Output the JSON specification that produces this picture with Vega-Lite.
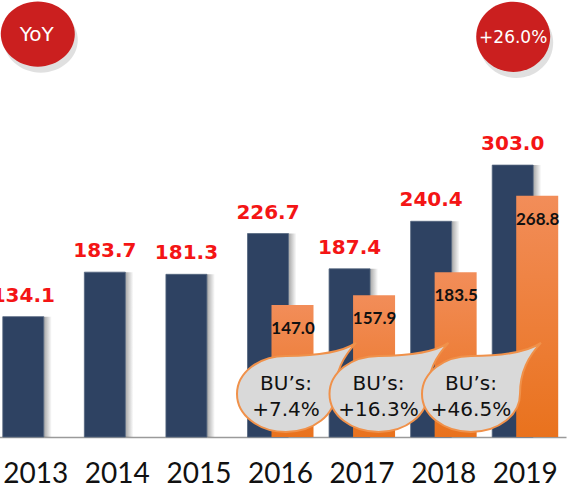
{
  "$schema": "https://vega.github.io/schema/vega-lite/v6.json",
  "width": 573,
  "height": 437,
  "autosize": {"type": "none"},
  "padding": {"left": 0, "top": 0, "right": 0, "bottom": 52},
  "background": "white",
  "config": {"view": {"stroke": null}},
  "datasets": {
    "totals": [
      {"year": "2013", "total": 134.1},
      {"year": "2014", "total": 183.7},
      {"year": "2015", "total": 181.3},
      {"year": "2016", "total": 226.7},
      {"year": "2017", "total": 187.4},
      {"year": "2018", "total": 240.4},
      {"year": "2019", "total": 303.0}
    ],
    "bu": [
      {"year": "2016", "bu": 147.0},
      {"year": "2017", "bu": 157.9},
      {"year": "2018", "bu": 183.5},
      {"year": "2019", "bu": 268.8}
    ],
    "bubbles": [
      {"year": "2016", "label": "BU’s:\n+7.4%"},
      {"year": "2017", "label": "BU’s:\n+16.3%"},
      {"year": "2018", "label": "BU’s:\n+46.5%"}
    ]
  },
  "layer": [
    {
      "encoding": {
        "x": {
          "field": "year",
          "type": "nominal",
          "scale": {
            "domain": ["2013", "2014", "2015", "2016", "2017", "2018", "2019"],
            "range": [-5, 566],
            "paddingInner": 0,
            "paddingOuter": 0
          },
          "axis": {
            "title": null,
            "labelFont": "Lato",
            "labelFontSize": 28,
            "labelColor": "#111111",
            "labelAngle": 0,
            "ticks": false,
            "tickSize": 0,
            "labelPadding": 45,
            "labelBaseline": "alphabetic",
            "domainColor": "#9A9A9A",
            "domainWidth": 1.5,
            "grid": false
          }
        }
      },
      "layer": [
        {
          "data": {"name": "totals"},
          "mark": {
            "type": "bar",
            "width": 8,
            "xOffset": 12,
            "color": {
              "gradient": "linear",
              "x1": 0, "y1": 0, "x2": 1, "y2": 0,
              "stops": [
                {"offset": 0, "color": "rgba(0,0,0,0.35)"},
                {"offset": 1, "color": "rgba(0,0,0,0)"}
              ]
            }
          },
          "encoding": {
            "y": {"field": "total", "type": "quantitative", "scale": {"domain": [0, 487], "nice": false, "zero": true}, "axis": null}
          }
        },
        {
          "data": {"name": "totals"},
          "mark": {"type": "bar", "width": 41, "xOffset": -12.5, "color": "#2E4262", "stroke": "#53647E", "strokeWidth": 0.8},
          "encoding": {
            "y": {"field": "total", "type": "quantitative", "scale": {"domain": [0, 487], "nice": false, "zero": true}, "axis": null}
          }
        },
        {
          "data": {"name": "totals"},
          "mark": {"type": "text", "xOffset": -12.5, "dy": -15, "baseline": "alphabetic", "align": "center", "font": "DejaVu Sans", "fontWeight": "bold", "fontSize": 20, "color": "#F41515"},
          "encoding": {
            "y": {"field": "total", "type": "quantitative", "scale": {"domain": [0, 487], "nice": false, "zero": true}, "axis": null},
            "text": {"field": "total", "type": "quantitative", "format": ".1f"}
          }
        },
        {
          "data": {"name": "bu"},
          "mark": {
            "type": "bar",
            "width": 42,
            "xOffset": 12,
            "color": {
              "gradient": "linear",
              "x1": 0, "y1": 0, "x2": 0, "y2": 1,
              "stops": [
                {"offset": 0, "color": "#F28D59"},
                {"offset": 1, "color": "#E9721D"}
              ]
            }
          },
          "encoding": {
            "y": {"field": "bu", "type": "quantitative", "scale": {"domain": [0, 487], "nice": false, "zero": true}, "axis": null}
          }
        },
        {
          "data": {"name": "bu"},
          "mark": {"type": "text", "xOffset": 12.5, "dy": 24, "baseline": "middle", "align": "center", "font": "Lato", "fontWeight": "bold", "fontSize": 17, "color": "#111111"},
          "encoding": {
            "y": {"field": "bu", "type": "quantitative", "scale": {"domain": [0, 487], "nice": false, "zero": true}, "axis": null},
            "text": {"field": "bu", "type": "quantitative", "format": ".1f"}
          }
        },
        {
          "data": {"values": [{"year": "2013", "text": "YoY"}]},
          "encoding": {
            "y": {"datum": 449, "type": "quantitative", "scale": {"domain": [0, 487], "nice": false, "zero": true}, "axis": null}
          },
          "layer": [
            {
              "mark": {"type": "point", "shape": "M -1 0 A 1 0.88 0 1 1 1 0 A 1 0.88 0 1 1 -1 0 Z", "size": 5476, "filled": true, "fill": "#000000", "opacity": 0.12, "xOffset": 5, "yOffset": 6, "strokeWidth": 0}
            },
            {
              "mark": {"type": "point", "shape": "M -1 0 A 1 0.88 0 1 1 1 0 A 1 0.88 0 1 1 -1 0 Z", "size": 5476, "filled": true, "fill": "#CB1F1F", "opacity": 1, "xOffset": 2, "strokeWidth": 0}
            },
            {
              "mark": {"type": "text", "xOffset": 1, "dy": 1, "baseline": "middle", "align": "center", "font": "DejaVu Sans", "fontSize": 20, "color": "#FFFFFF"},
              "encoding": {"text": {"field": "text", "type": "nominal"}}
            }
          ]
        },
        {
          "data": {"values": [{"year": "2019", "text": "+26.0%"}]},
          "encoding": {
            "y": {"datum": 446, "type": "quantitative", "scale": {"domain": [0, 487], "nice": false, "zero": true}, "axis": null}
          },
          "layer": [
            {
              "mark": {"type": "point", "shape": "M -1 0 A 1 0.95 0 1 1 1 0 A 1 0.95 0 1 1 -1 0 Z", "size": 5476, "filled": true, "fill": "#000000", "opacity": 0.12, "xOffset": -9, "yOffset": 6, "strokeWidth": 0}
            },
            {
              "mark": {"type": "point", "shape": "M -1 0 A 1 0.95 0 1 1 1 0 A 1 0.95 0 1 1 -1 0 Z", "size": 5476, "filled": true, "fill": "#CB1F1F", "opacity": 1, "xOffset": -12, "strokeWidth": 0}
            },
            {
              "mark": {"type": "text", "xOffset": -12, "dy": 1, "baseline": "middle", "align": "center", "font": "DejaVu Sans", "fontSize": 17, "color": "#FFFFFF"},
              "encoding": {"text": {"field": "text", "type": "nominal"}}
            }
          ]
        }
      ]
    },
    {
      "data": {"name": "bubbles"},
      "encoding": {
        "x": {
          "field": "year",
          "type": "nominal",
          "scale": {"domain": ["2016", "2017", "2018"], "range": [239.75, 517.25], "paddingInner": 0, "paddingOuter": 0},
          "axis": null
        },
        "y": {"datum": 48, "type": "quantitative", "scale": {"domain": [0, 487], "nice": false, "zero": true}, "axis": null}
      },
      "layer": [
        {
          "mark": {
            "type": "point",
            "shape": "M 1.4 -1.02 C 1.1 -0.82 0.6 -0.76 0 -0.76 C -0.55 -0.76 -0.98 -0.42 -0.98 0 C -0.98 0.42 -0.55 0.76 0 0.76 C 0.55 0.76 0.98 0.42 0.98 0 C 0.98 -0.45 1.15 -0.75 1.4 -1.02 Z",
            "size": 10000,
            "filled": true,
            "fill": "#D9D9D9",
            "stroke": "#F0914A",
            "strokeWidth": 2,
            "opacity": 1
          }
        },
        {
          "mark": {"type": "text", "lineBreak": "\n", "lineHeight": 26, "dy": -10, "baseline": "middle", "align": "center", "font": "DejaVu Sans", "fontSize": 20, "color": "#111111"},
          "encoding": {"text": {"field": "label", "type": "nominal"}}
        }
      ]
    }
  ],
  "resolve": {"scale": {"x": "independent"}}
}
